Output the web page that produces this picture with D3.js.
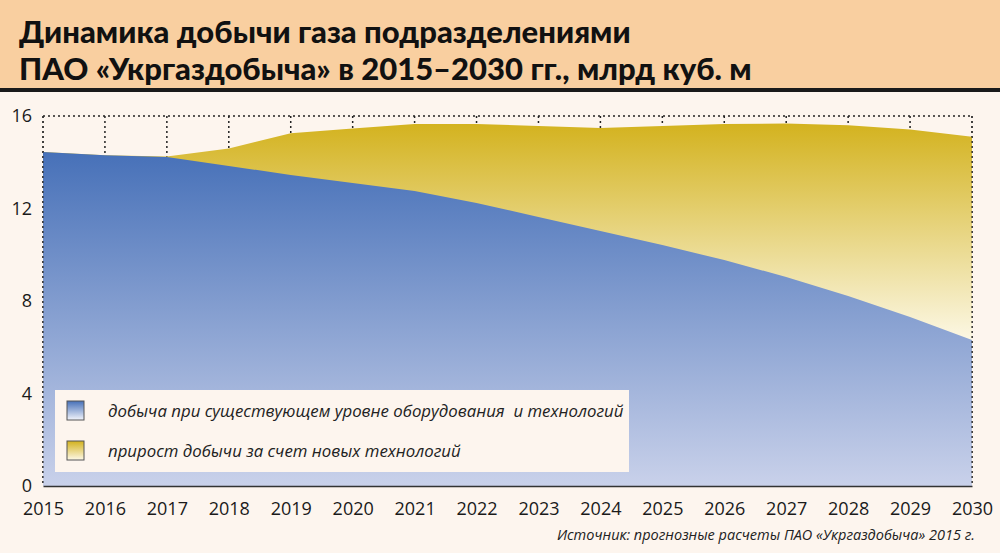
<!DOCTYPE html>
<html>
<head>
<meta charset="utf-8">
<script src="https://cdn.jsdelivr.net/npm/d3@7"></script>
<style>
  body { margin: 0; background: #fdf5ee; }
  svg { display: block; }
</style>
</head>
<body>
<svg id="svg" width="1000" height="553"></svg>
<script>
// years on the x axis
var years = [2015, 2016, 2017, 2018, 2019, 2020, 2021, 2022, 2023, 2024, 2025, 2026, 2027, 2028, 2029, 2030];
// production at the existing level of equipment and technology, bcm
var baseValues = [14.44, 14.3, 14.23, 13.84, 13.45, 13.1, 12.76, 12.24, 11.63, 11.03, 10.42, 9.77, 9.04, 8.22, 7.31, 6.31];
// total production including new technologies, bcm
var totalValues = [14.44, 14.3, 14.25, 14.6, 15.25, 15.46, 15.65, 15.65, 15.57, 15.48, 15.57, 15.65, 15.68, 15.6, 15.42, 15.1];
var yTicks = [0, 4, 8, 12, 16];
var legendLabels = ["добыча при существующем уровне оборудования  и технологий", "прирост добычи за счет новых технологий"];
var titleLines = ["Динамика добычи газа подразделениями", "ПАО «Укргаздобыча» в 2015–2030 гг., млрд куб. м"];
var sourceText = "Источник: прогнозные расчеты ПАО «Укргаздобыча» 2015 г.";

var svg = d3.select("svg");
var font = "'Open Sans', 'DejaVu Sans', sans-serif";

var data = years.map(function (y, i) {
    return {year: y, base: baseValues[i], total: totalValues[i]};
});

var x = d3.scaleLinear().domain([2015, 2030]).range([43, 972]);
var y = d3.scaleLinear().domain([0, 16]).range([486, 116]);

// background and title band
svg.append("rect").attr("width", 1000).attr("height", 553).attr("fill", "#fdf5ee");
svg.append("rect").attr("width", 1000).attr("height", 89).attr("fill", "#f9cfa0");
svg.append("rect").attr("y", 88).attr("width", 1000).attr("height", 4).attr("fill", "#1a1a1a");

svg.append("g").selectAll("text")
        .data(titleLines)
        .enter().append("text")
        .attr("x", 19)
        .attr("y", function (d, i) { return 43 + i * 37; })
        .attr("font-family", "Lato, 'Open Sans', sans-serif")
        .attr("font-weight", "900")
        .attr("font-size", 31)
        .attr("fill", "#111")
        .text(function (d) { return d; });

// gradients
var defs = svg.append("defs");
var gBlue = defs.append("linearGradient").attr("id", "gBlue")
        .attr("gradientUnits", "userSpaceOnUse").attr("x1", 0).attr("x2", 0).attr("y1", 150).attr("y2", 486);
gBlue.append("stop").attr("offset", 0).attr("stop-color", "#4670b8");
gBlue.append("stop").attr("offset", 1).attr("stop-color", "#c9d1ea");

var gGold = defs.append("linearGradient").attr("id", "gGold")
        .attr("gradientUnits", "userSpaceOnUse").attr("x1", 0).attr("x2", 0).attr("y1", 122).attr("y2", 342);
gGold.append("stop").attr("offset", 0).attr("stop-color", "#d3b21d");
gGold.append("stop").attr("offset", 1).attr("stop-color", "#fcf8e6");

var gBlueSw = defs.append("linearGradient").attr("id", "gBlueSw").attr("x1", 0).attr("x2", 0).attr("y1", 0).attr("y2", 1);
gBlueSw.append("stop").attr("offset", 0).attr("stop-color", "#4670b8");
gBlueSw.append("stop").attr("offset", 1).attr("stop-color", "#f2f4fb");
var gGoldSw = defs.append("linearGradient").attr("id", "gGoldSw").attr("x1", 0).attr("x2", 0).attr("y1", 0).attr("y2", 1);
gGoldSw.append("stop").attr("offset", 0).attr("stop-color", "#d3b21d");
gGoldSw.append("stop").attr("offset", 1).attr("stop-color", "#fdf8e8");

var g = svg.append("g");

// dotted grid behind the areas
g.append("g").selectAll("line")
        .data(years)
        .enter().append("line")
        .attr("x1", function (d) { return x(d); })
        .attr("x2", function (d) { return x(d); })
        .attr("y1", y(16))
        .attr("y2", y(0))
        .attr("stroke", "#222")
        .attr("stroke-width", 1.5)
        .attr("stroke-dasharray", "2,3");
g.append("line")
        .attr("x1", x(2015)).attr("x2", x(2030))
        .attr("y1", y(16)).attr("y2", y(16))
        .attr("stroke", "#222")
        .attr("stroke-width", 1.5)
        .attr("stroke-dasharray", "2,3");

// areas
var areaTotal = d3.area()
        .x(function (d) { return x(d.year); })
        .y0(y(0))
        .y1(function (d) { return y(d.total); });
var areaBase = d3.area()
        .x(function (d) { return x(d.year); })
        .y0(y(0))
        .y1(function (d) { return y(d.base); });

g.append("path").datum(data).attr("d", areaTotal).attr("fill", "url(#gGold)");
g.append("path").datum(data).attr("d", areaBase).attr("fill", "url(#gBlue)");

// dotted edges on top
g.append("g").selectAll("line")
        .data([2015, 2030])
        .enter().append("line")
        .attr("x1", function (d) { return x(d); })
        .attr("x2", function (d) { return x(d); })
        .attr("y1", y(16))
        .attr("y2", y(0))
        .attr("stroke", "#333")
        .attr("stroke-width", 1.2)
        .attr("stroke-dasharray", "2,3");

// x axis
var xAxis = g.append("g")
        .attr("transform", "translate(0," + y(0) + ")")
        .call(d3.axisBottom(x).tickValues(years).tickFormat(d3.format("d")).tickSize(0).tickPadding(16));
xAxis.select(".domain").attr("stroke", "#333").attr("stroke-width", 1.5);
xAxis.selectAll("text").attr("font-family", font).attr("font-size", 18).attr("fill", "#1a1a1a");

// y axis labels
var yAxis = g.append("g")
        .attr("transform", "translate(" + 32 + ",0)")
        .call(d3.axisLeft(y).tickValues(yTicks).tickSize(0).tickPadding(0));
yAxis.select(".domain").remove();
yAxis.selectAll("text").attr("font-family", font).attr("font-size", 18).attr("fill", "#1a1a1a");

// legend
var legend = svg.append("g");
legend.append("rect")
        .attr("x", 55).attr("y", 390).attr("width", 574).attr("height", 82)
        .attr("fill", "#fdf5ee");
var items = legend.selectAll("g.item")
        .data(legendLabels)
        .enter().append("g")
        .attr("class", "item")
        .attr("transform", function (d, i) { return "translate(0," + (i * 40) + ")"; });
items.append("rect")
        .attr("x", 67).attr("y", 401).attr("width", 17).attr("height", 19)
        .attr("fill", function (d, i) { return i === 0 ? "url(#gBlueSw)" : "url(#gGoldSw)"; })
        .attr("stroke", "#555").attr("stroke-width", 1);
items.append("text")
        .attr("x", 108).attr("y", 417)
        .attr("font-family", font)
        .attr("font-style", "italic")
        .attr("font-size", 16.8)
        .attr("fill", "#222")
        .style("white-space", "pre")
        .text(function (d) { return d; });

// source
svg.append("text")
        .attr("x", 975).attr("y", 540)
        .attr("text-anchor", "end")
        .attr("font-family", font)
        .attr("font-style", "italic")
        .attr("font-size", 14.5)
        .attr("fill", "#222")
        .text(sourceText);
</script>
</body>
</html>
